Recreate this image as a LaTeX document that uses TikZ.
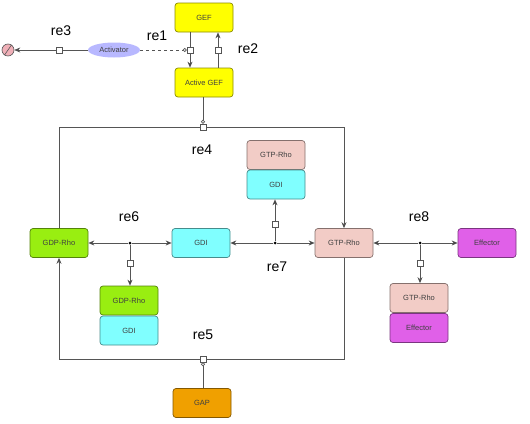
\documentclass[tikz,border=0pt]{standalone}
\usepackage{fontspec}
\setmainfont{Liberation Sans}
\usetikzlibrary{arrows.meta,shapes.geometric}
\definecolor{cyel}{HTML}{FFFF00}
\definecolor{clime}{HTML}{99EE11}
\definecolor{ccyan}{HTML}{80FFFF}
\definecolor{cpink}{HTML}{F2CCC6}
\definecolor{cmag}{HTML}{E060E8}
\definecolor{corange}{HTML}{F0A000}
\definecolor{clav}{HTML}{B8B8FF}
\definecolor{cdeg}{HTML}{F0B0B8}
\definecolor{cline}{HTML}{555555}
\begin{document}
\begin{tikzpicture}[x=1pt,y=-1pt,
  species/.style={draw=#1!55!black, fill=#1, rounded corners=3pt, minimum width=58pt, minimum height=29pt, inner sep=0pt, font=\fontsize{7.5}{8}\selectfont, line width=0.7pt, text=black!75},
  proc/.style={draw=cline, fill=white, minimum size=6pt, inner sep=0pt, line width=0.6pt},
  dotnode/.style={circle, fill=black, minimum size=3pt, inner sep=0pt},
  lbl/.style={font=\fontsize{14}{14}\selectfont},
  conn/.style={draw=cline, line width=0.7pt},
  arr/.style={conn, -{Stealth[length=6pt,width=5pt,fill=black]}},
  modif/.style={conn, -{Circle[open,length=4pt,width=4pt,fill=white]}}
]
\useasboundingbox (0,0) rectangle (530,423);

% species
\node[species=cyel] (gef) at (204,17.5) {GEF};
\node[species=cyel] (agef) at (204,82.5) {Active GEF};
\node[ellipse, fill=clav, minimum width=52pt, minimum height=15pt, inner sep=0pt, font=\fontsize{7.5}{8}\selectfont, text=black!75] (act) at (114,50) {Activator};
\node[circle, draw=cline, fill=cdeg, minimum size=12pt, inner sep=0pt, line width=0.6pt] (deg) at (8,50) {};
\draw[cline, line width=0.6pt] (deg.235) -- (deg.55);

\node[species=clime] (gdp) at (59,243) {GDP-Rho};
\node[species=ccyan] (gdi) at (201,243) {GDI};
\node[species=cpink] (gtp) at (344,243) {GTP-Rho};
\node[species=cmag] (eff) at (487,243) {Effector};

\node[species=cpink] (c7a) at (276,155) {GTP-Rho};
\node[species=ccyan] (c7b) at (276,184.5) {GDI};
\node[species=clime] (c6a) at (129,300.5) {GDP-Rho};
\node[species=ccyan] (c6b) at (129,330.5) {GDI};
\node[species=cpink] (c8a) at (419,298) {GTP-Rho};
\node[species=cmag] (c8b) at (419,328) {Effector};
\node[species=corange] (gap) at (202,403) {GAP};

% process nodes
\node[proc] (re1) at (190,50) {};
\node[proc] (re2) at (218,50) {};
\node[proc] (re3) at (59,50) {};
\node[proc] (re4) at (203,127) {};
\node[proc] (re5) at (203,359) {};
\node[dotnode] (d6) at (130,243) {};
\node[proc] (p6) at (130,263) {};
\node[dotnode] (d7) at (275,243) {};
\node[proc] (p7) at (275,224) {};
\node[dotnode] (d8) at (420,243) {};
\node[proc] (p8) at (420,263) {};

% labels
\node[lbl] (l1) at (157,36) {re1};
\node[lbl] (l2) at (248,49) {re2};
\node[lbl] (l3) at (61,31) {re3};
\node[lbl] (l4) at (202,150) {re4};
\node[lbl] (l5) at (203,335) {re5};
\node[lbl] (l6) at (129,217) {re6};
\node[lbl] (l7) at (277,267) {re7};
\node[lbl] (l8) at (419,217) {re8};

% re1
\draw[conn] (gef.south -| re1) -- (re1.north);
\draw[arr] (re1.south) -- (agef.north -| re1);
\draw[conn, dashed, -{Circle[open,length=4pt,width=4pt,fill=white]}] (act.east) -- (re1.west);
% re2
\draw[conn] (agef.north -| re2) -- (re2.south);
\draw[arr] (re2.north) -- (gef.south -| re2);
% re3
\draw[conn] (act.west) -- (re3.east);
\draw[arr] (re3.west) -- (deg.east);
% re4
\draw[modif] (agef.south -| re4) -- (re4.north);
\draw[conn] (gdp.north) |- (re4.west);
\draw[arr] (re4.east) -| (gtp.north);
% re5
\draw[modif] (gap.north -| re5) -- (re5.south);
\draw[arr] (re5.west) -| (gdp.south);
\draw[conn] (gtp.south) |- (re5.east);
% re6
\draw[arr] (d6) -- (gdp.east);
\draw[arr] (d6) -- (gdi.west);
\draw[conn] (d6) -- (p6.north);
\draw[arr] (p6.south) -- (c6a.north -| p6);
% re7
\draw[arr] (d7) -- (gdi.east);
\draw[arr] (d7) -- (gtp.west);
\draw[conn] (d7) -- (p7.south);
\draw[arr] (p7.north) -- (c7b.south -| p7);
% re8
\draw[arr] (d8) -- (gtp.east);
\draw[arr] (d8) -- (eff.west);
\draw[conn] (d8) -- (p8.north);
\draw[arr] (p8.south) -- (c8a.north -| p8);
\end{tikzpicture}
\end{document}
